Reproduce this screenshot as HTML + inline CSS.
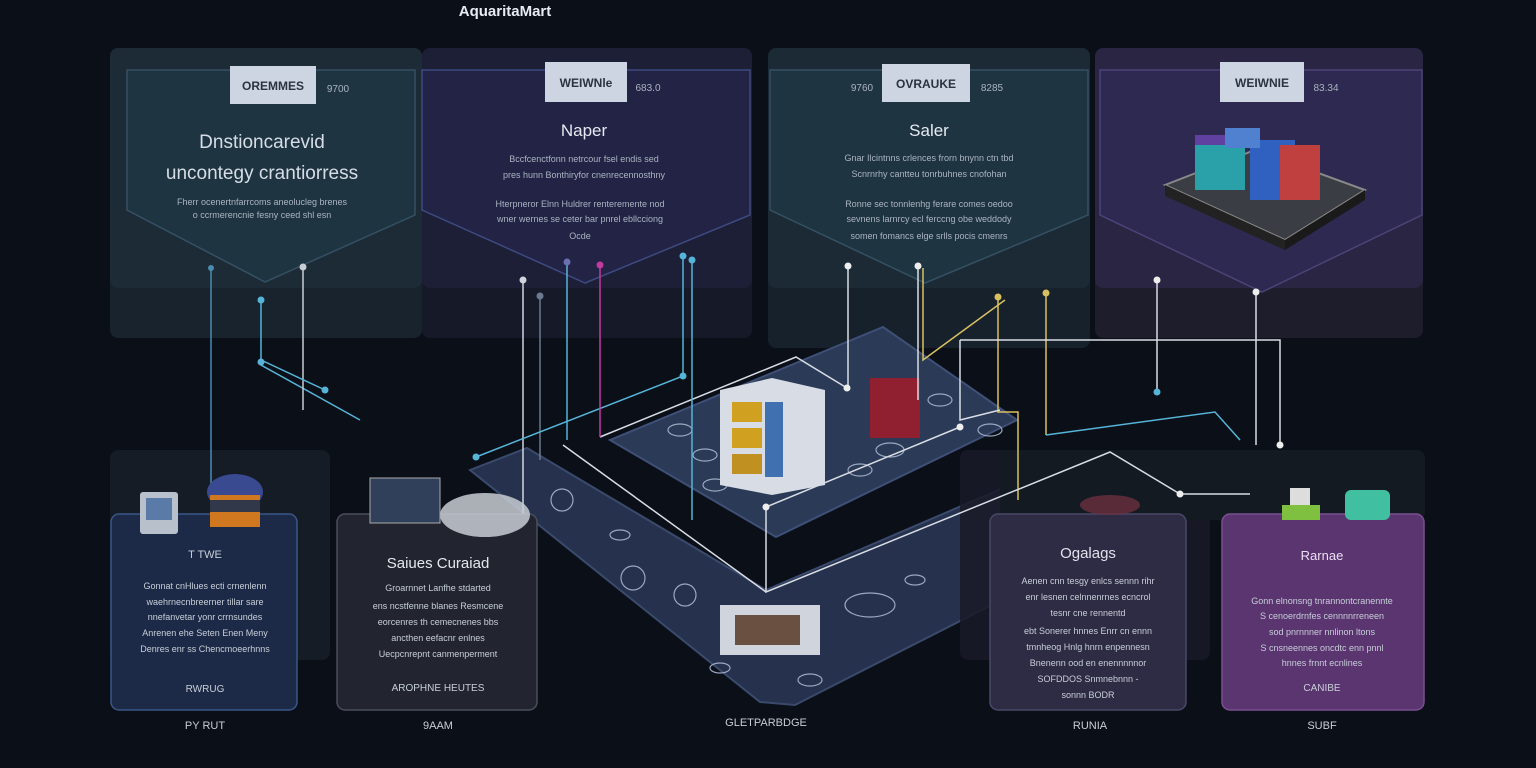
<!DOCTYPE html>
<html><head><meta charset="utf-8"><style>
html,body{margin:0;padding:0;background:#0b0f18;}
svg{display:block}
text{font-family:"Liberation Sans",sans-serif}
</style></head><body>
<svg width="1536" height="768" viewBox="0 0 1536 768" xmlns="http://www.w3.org/2000/svg">
<rect width="1536" height="768" fill="#0b0f18"/>
<text x="505" y="16" fill="#e8ecf2" font-size="15" font-weight="bold" text-anchor="middle">AquaritaMart</text>

<!-- top backdrops -->
<rect x="110" y="48" width="312" height="290" rx="8" fill="#18232d"/>
<rect x="110" y="48" width="312" height="240" rx="8" fill="#1c2b36"/>
<rect x="422" y="48" width="330" height="290" rx="8" fill="#161a28"/>
<rect x="422" y="48" width="330" height="240" rx="8" fill="#1d1f36"/>
<rect x="768" y="48" width="322" height="300" rx="8" fill="#17212b"/>
<rect x="768" y="48" width="322" height="240" rx="8" fill="#1b2a35"/>
<rect x="1095" y="48" width="328" height="290" rx="8" fill="#1d1d2c"/>
<rect x="1095" y="48" width="328" height="240" rx="8" fill="#2a2542"/>

<!-- shields -->
<path d="M127,70 H415 V215 L265,282 L127,210 Z" fill="#1f3441" stroke="#355063" stroke-width="1.5"/>
<path d="M422,70 H750 V215 L585,283 L422,210 Z" fill="#232345" stroke="#3d4a80" stroke-width="1.5"/>
<path d="M770,70 H1088 V215 L925,283 L770,210 Z" fill="#1f3441" stroke="#355063" stroke-width="1.5"/>
<path d="M1100,70 H1422 V215 L1262,292 L1100,215 Z" fill="#2e2950" stroke="#4c4378" stroke-width="1.5"/>

<!-- label chips -->
<rect x="230" y="66" width="86" height="38" fill="#cdd5e3"/>
<text x="273" y="90" font-size="12" font-weight="bold" fill="#2a3340" text-anchor="middle">OREMMES</text>
<text x="338" y="92" font-size="10" fill="#a9b3bf" text-anchor="middle">9700</text>
<rect x="545" y="62" width="82" height="40" fill="#cdd5e3"/>
<text x="586" y="87" font-size="12" font-weight="bold" fill="#2a3340" text-anchor="middle">WEIWNle</text>
<text x="648" y="91" font-size="10" fill="#a9b3bf" text-anchor="middle">683.0</text>
<rect x="882" y="64" width="88" height="38" fill="#cdd5e3"/>
<text x="926" y="88" font-size="12" font-weight="bold" fill="#2a3340" text-anchor="middle">OVRAUKE</text>
<text x="862" y="91" font-size="10" fill="#a9b3bf" text-anchor="middle">9760</text>
<text x="992" y="91" font-size="10" fill="#a9b3bf" text-anchor="middle">8285</text>
<rect x="1220" y="62" width="84" height="40" fill="#cdd5e3"/>
<text x="1262" y="87" font-size="12" font-weight="bold" fill="#2a3340" text-anchor="middle">WEIWNIE</text>
<text x="1326" y="91" font-size="10" fill="#a9b3bf" text-anchor="middle">83.34</text>

<!-- shield text -->
<text x="262" y="148" font-size="19" fill="#d6dde6" text-anchor="middle">Dnstioncarevid</text>
<text x="262" y="179" font-size="19" fill="#d6dde6" text-anchor="middle">uncontegy crantiorress</text>
<text x="262" y="205" font-size="9" fill="#aab4c0" text-anchor="middle">Fherr ocenertnfarrcoms aneolucleg brenes</text>
<text x="262" y="218" font-size="9" fill="#aab4c0" text-anchor="middle">o ccrmerencnie fesny ceed shl esn</text>
<text x="584" y="136" font-size="17" fill="#e6e9f2" text-anchor="middle">Naper</text>
<text x="584" y="162" font-size="9" fill="#aab4c0" text-anchor="middle">Bccfcenctfonn netrcour fsel endis sed</text>
<text x="584" y="178" font-size="9" fill="#aab4c0" text-anchor="middle">pres hunn Bonthiryfor cnenrecennosthny</text>
<text x="580" y="207" font-size="9" fill="#aab4c0" text-anchor="middle">Hterpneror Elnn Huldrer renteremente nod</text>
<text x="580" y="222" font-size="9" fill="#aab4c0" text-anchor="middle">wner wernes se ceter bar pnrel ebllcciong</text>
<text x="580" y="239" font-size="9" fill="#aab4c0" text-anchor="middle">Ocde</text>
<text x="929" y="136" font-size="17" fill="#e6e9f2" text-anchor="middle">Saler</text>
<text x="929" y="161" font-size="9" fill="#aab4c0" text-anchor="middle">Gnar Ilcintnns crlences frorn bnynn ctn tbd</text>
<text x="929" y="177" font-size="9" fill="#aab4c0" text-anchor="middle">Scnrnrhy cantteu tonrbuhnes cnofohan</text>
<text x="929" y="207" font-size="9" fill="#aab4c0" text-anchor="middle">Ronne sec tonnlenhg ferare comes oedoo</text>
<text x="929" y="222" font-size="9" fill="#aab4c0" text-anchor="middle">sevnens larnrcy ecl ferccng obe weddody</text>
<text x="929" y="239" font-size="9" fill="#aab4c0" text-anchor="middle">somen fomancs elge srlls pocis cmenrs</text>

<!-- server icon panel 4 -->
<g>
<polygon points="1165,185 1255,150 1365,190 1285,240" fill="#3a3d44" stroke="#888" stroke-width="2"/>
<polygon points="1165,185 1285,240 1285,250 1165,196" fill="#222"/>
<polygon points="1285,240 1365,190 1365,200 1285,250" fill="#1a1a1a"/>
<rect x="1195" y="135" width="50" height="55" fill="#2aa0a8"/>
<rect x="1195" y="135" width="50" height="10" fill="#6040a0"/>
<rect x="1250" y="140" width="45" height="60" fill="#3060c0"/>
<rect x="1280" y="145" width="40" height="55" fill="#c04040"/>
<rect x="1225" y="128" width="35" height="20" fill="#5080d0"/>
</g>

<!-- bottom backdrops -->
<rect x="110" y="450" width="220" height="210" rx="8" fill="#151c26"/>

<!-- platform -->
<polygon points="470,470 527,448 766,590 1080,455 1080,560 795,705 760,702" fill="#26324d" stroke="#3a4a6c" stroke-width="2"/>
<polygon points="610,440 883,327 1017,420 776,537" fill="#2b3a56" stroke="#3f5078" stroke-width="2"/>
<rect x="960" y="450" width="250" height="210" rx="8" fill="#1a1a28" opacity="0.85"/>
<rect x="1000" y="450" width="425" height="70" rx="8" fill="#141a22"/>
<g fill="none" stroke="#9aa8c0" stroke-width="1.2">
<circle cx="562" cy="500" r="11"/><circle cx="633" cy="578" r="12"/><circle cx="685" cy="595" r="11"/>
<ellipse cx="680" cy="430" rx="12" ry="6"/><ellipse cx="705" cy="455" rx="12" ry="6"/><ellipse cx="715" cy="485" rx="12" ry="6"/>
<ellipse cx="860" cy="470" rx="12" ry="6"/><ellipse cx="890" cy="450" rx="14" ry="7"/><ellipse cx="940" cy="400" rx="12" ry="6"/>
<ellipse cx="990" cy="430" rx="12" ry="6"/><ellipse cx="720" cy="668" rx="10" ry="5"/><ellipse cx="810" cy="680" rx="12" ry="6"/>
<ellipse cx="870" cy="605" rx="25" ry="12"/><ellipse cx="915" cy="580" rx="10" ry="5"/><ellipse cx="620" cy="535" rx="10" ry="5"/>
</g>
<!-- building -->
<polygon points="720,390 772,378 825,390 825,485 772,495 720,485" fill="#d8dce4"/>
<rect x="732" y="402" width="30" height="20" fill="#d0a020"/>
<rect x="732" y="428" width="30" height="20" fill="#d0a020"/>
<rect x="732" y="454" width="30" height="20" fill="#c09020"/>
<rect x="765" y="402" width="18" height="75" fill="#4070b0"/>
<rect x="870" y="378" width="50" height="60" fill="#902030"/>
<rect x="720" y="605" width="100" height="50" fill="#d0d4dc"/>
<rect x="735" y="615" width="65" height="30" fill="#6a5040"/>

<!-- lines -->
<g fill="none" stroke-width="1.5">
<path d="M211,268 V510" stroke="#4a8bb0"/>
<path d="M261,300 V365 L360,420" stroke="#56b4d8"/>
<path d="M303,267 V410" stroke="#c8ccd4"/>
<path d="M261,360 L325,390" stroke="#56b4d8"/>
<path d="M523,280 V540" stroke="#d0d4dc"/>
<path d="M540,296 V460" stroke="#6a7a90"/>
<path d="M567,262 V440" stroke="#56b4d8"/>
<path d="M683,256 V376 L476,457" stroke="#56b4d8"/>
<path d="M600,437 L796,357 L847,388" stroke="#d8dce4"/>
<path d="M600,265 V437" stroke="#c03aa0"/>
<path d="M692,258 V520" stroke="#56b4d8"/>
<path d="M848,266 V388" stroke="#d8dce4"/>
<path d="M918,266 V400" stroke="#d8dce4"/>
<path d="M923,268 V360 L1005,300" stroke="#d8c060"/>
<path d="M998,297 V412 L1018,412 V500" stroke="#d8c060"/>
<path d="M1046,293 V435" stroke="#d8c060"/>
<path d="M960,340 V420 L1000,410" stroke="#d8dce4"/>
<path d="M960,340 H1280 V445" stroke="#d8dce4"/>
<path d="M1157,280 V392" stroke="#d8dce4"/>
<path d="M1256,292 V445" stroke="#d8dce4"/>
<path d="M960,427 L766,507 V592 L1110,452 L1180,494 H1250" stroke="#d8dce4"/>
<path d="M1046,435 L1215,412 L1240,440" stroke="#56b4d8"/>
<path d="M563,445 L766,592" stroke="#d8dce4"/>
</g>
<g>
<circle cx="211" cy="268" r="3" fill="#4a8bb0"/><circle cx="261" cy="300" r="3.5" fill="#56b4d8"/><circle cx="303" cy="267" r="3.5" fill="#c8ccd4"/>
<circle cx="523" cy="280" r="3.5" fill="#d0d4dc"/><circle cx="540" cy="296" r="3.5" fill="#6a7a90"/><circle cx="567" cy="262" r="3.5" fill="#6a70b0"/><circle cx="600" cy="265" r="3.5" fill="#c03aa0"/>
<circle cx="683" cy="256" r="3.5" fill="#56b4d8"/><circle cx="692" cy="260" r="3.5" fill="#56b4d8"/><circle cx="683" cy="376" r="3.5" fill="#56b4d8"/><circle cx="476" cy="457" r="3.5" fill="#56b4d8"/>
<circle cx="848" cy="266" r="3.5" fill="#eee"/><circle cx="847" cy="388" r="3.5" fill="#eee"/><circle cx="918" cy="266" r="3.5" fill="#eee"/><circle cx="998" cy="297" r="3.5" fill="#d8c060"/><circle cx="1046" cy="293" r="3.5" fill="#d8c060"/>
<circle cx="1157" cy="280" r="3.5" fill="#eee"/><circle cx="1256" cy="292" r="3.5" fill="#eee"/><circle cx="1157" cy="392" r="3.5" fill="#56b4d8"/><circle cx="1280" cy="445" r="3.5" fill="#eee"/>
<circle cx="766" cy="507" r="3.5" fill="#eee"/><circle cx="960" cy="427" r="3.5" fill="#eee"/><circle cx="1180" cy="494" r="3.5" fill="#eee"/><circle cx="261" cy="362" r="3.5" fill="#56b4d8"/><circle cx="325" cy="390" r="3.5" fill="#56b4d8"/>
</g>

<!-- bottom cards -->
<rect x="111" y="514" width="186" height="196" rx="8" fill="#1c2a47" stroke="#3a5788" stroke-width="1.5"/>
<rect x="337" y="514" width="200" height="196" rx="8" fill="#22252f" stroke="#4a4e5a" stroke-width="1.5"/>
<rect x="990" y="514" width="196" height="196" rx="8" fill="#2e2c44" stroke="#4a4866" stroke-width="1.5"/>
<rect x="1222" y="514" width="202" height="196" rx="8" fill="#5a3570" stroke="#7a5090" stroke-width="1.5"/>

<!-- card icons -->
<rect x="140" y="492" width="38" height="42" rx="3" fill="#b8c0cc"/><rect x="146" y="498" width="26" height="22" fill="#5a7aa8"/>
<ellipse cx="235" cy="492" rx="28" ry="18" fill="#3a4a90"/><rect x="210" y="495" width="50" height="32" fill="#d07820"/><rect x="210" y="500" width="50" height="12" fill="#30384a"/>
<ellipse cx="485" cy="515" rx="45" ry="22" fill="#c8ccd4" opacity="0.85"/>
<rect x="370" y="478" width="70" height="45" fill="#30405a" stroke="#aaa"/>
<rect x="1290" y="488" width="20" height="22" fill="#ddd"/><rect x="1345" y="490" width="45" height="30" rx="6" fill="#40c0a0"/><rect x="1282" y="505" width="38" height="15" fill="#80c040"/>
<ellipse cx="1110" cy="505" rx="30" ry="10" fill="#6a3040" opacity="0.8"/>

<!-- card text -->
<g fill="#c7ced8" font-size="9" text-anchor="middle">
<text x="205" y="558" font-size="11">T TWE</text>
<text x="205" y="589">Gonnat cnHlues ecti crnenlenn</text>
<text x="205" y="605">waehrnecnbreerner tillar sare</text>
<text x="205" y="620">nnefanvetar yonr crrnsundes</text>
<text x="205" y="636">Anrenen ehe Seten Enen Meny</text>
<text x="205" y="652">Denres enr ss Chencmoeerhnns</text>
<text x="205" y="692" font-size="10">RWRUG</text>
<text x="205" y="729" font-size="11">PY RUT</text>
<text x="438" y="568" font-size="15" fill="#e4e8ee">Saiues Curaiad</text>
<text x="438" y="591">Groarnnet Lanfhe stdarted</text>
<text x="438" y="609">ens ncstfenne blanes  Resmcene</text>
<text x="438" y="625">eorcenres th cemecnenes bbs</text>
<text x="438" y="641">ancthen eefacnr enlnes</text>
<text x="438" y="657">Uecpcnrepnt canmenperment</text>
<text x="438" y="691" font-size="10">AROPHNE HEUTES</text>
<text x="438" y="729" font-size="11">9AAM</text>
<text x="766" y="726" font-size="11">GLETPARBDGE</text>
<text x="1088" y="558" font-size="15" fill="#dfe2ea">Ogalags</text>
<text x="1088" y="584">Aenen cnn tesgy enlcs sennn rihr</text>
<text x="1088" y="600">enr lesnen celnnenrnes ecncrol</text>
<text x="1088" y="616">tesnr cne rennentd</text>
<text x="1088" y="634">ebt Sonerer  hnnes Enrr cn ennn</text>
<text x="1088" y="650">tmnheog Hnlg hnrn enpennesn</text>
<text x="1088" y="666">Bnenenn ood en enennnnnor</text>
<text x="1088" y="682">SOFDDOS Snmnebnnn -</text>
<text x="1088" y="698">sonnn BODR</text>
<text x="1090" y="729" font-size="11">RUNIA</text>
<text x="1322" y="560" font-size="13" fill="#ecdff2">Rarnae</text>
<text x="1322" y="604">Gonn elnonsng tnrannontcranennte</text>
<text x="1322" y="619">S cenoerdrnfes cennnnrreneen</text>
<text x="1322" y="635">sod pnrnnner nnlinon ltons</text>
<text x="1322" y="651">S cnsneennes oncdtc enn pnnl</text>
<text x="1322" y="666">hnnes frnnt ecnlines</text>
<text x="1322" y="691" font-size="10">CANIBE</text>
<text x="1322" y="729" font-size="11">SUBF</text>
</g>
</svg>
</body></html>
